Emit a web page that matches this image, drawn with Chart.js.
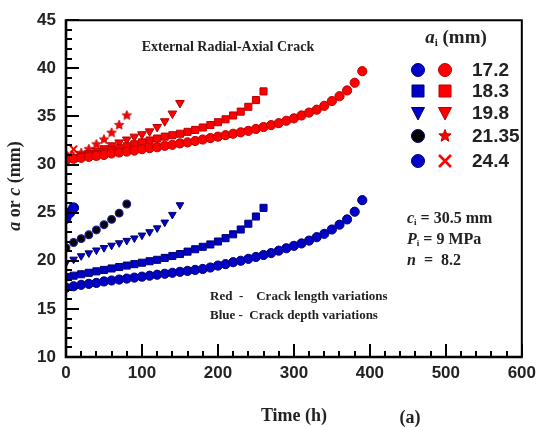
<!DOCTYPE html>
<html>
<head>
<meta charset="utf-8">
<script src="https://cdn.jsdelivr.net/npm/chart.js@4"></script>
<style>
  html, body { margin: 0; padding: 0; background: #fff; }
  #wrap { width: 542px; height: 427px; }
</style>
</head>
<body>
<div id="wrap"><canvas id="crack" width="542" height="427"></canvas></div>
<script>
// time steps (h)
const t390 = [0, 10, 20, 30, 40, 50, 60, 70, 80, 90, 100, 110, 120, 130, 140, 150, 160, 170, 180, 190,
  200, 210, 220, 230, 240, 250, 260, 270, 280, 290, 300, 310, 320, 330, 340, 350, 360, 370, 380, 390];
const t260 = [0, 10, 20, 30, 40, 50, 60, 70, 80, 90, 100, 110, 120, 130, 140, 150, 160, 170, 180, 190,
  200, 210, 220, 230, 240, 250, 260];
const t150 = [0, 10, 20, 30, 40, 50, 60, 70, 80, 90, 100, 110, 120, 130, 140, 150];
const t80 = [0, 10, 20, 30, 40, 50, 60, 70, 80];
const t10 = [0, 5, 10];

// crack length c (red)
const cLen17 = [30.5, 30.6, 30.7, 30.8, 30.9, 31.0, 31.15, 31.25, 31.35, 31.45,
  31.6, 31.7, 31.8, 31.95, 32.05, 32.2, 32.3, 32.45, 32.6, 32.75,
  32.9, 33.05, 33.2, 33.35, 33.5, 33.7, 33.9, 34.1, 34.3, 34.55,
  34.8, 35.1, 35.4, 35.7, 36.1, 36.6, 37.1, 37.7, 38.5, 39.7];
const cLen18 = [30.5, 30.65, 30.8, 30.95, 31.1, 31.3, 31.5, 31.7, 31.9, 32.1,
  32.3, 32.5, 32.7, 32.9, 33.05, 33.2, 33.4, 33.6, 33.85, 34.1,
  34.4, 34.7, 35.1, 35.5, 36.0, 36.7, 37.6];
const cLen19 = [30.5, 30.7, 30.95, 31.2, 31.45, 31.7, 32.0, 32.3, 32.6, 32.9, 33.15, 33.45, 33.9, 34.5, 35.3, 36.4];
const cLen21 = [30.5, 30.8, 31.2, 31.6, 32.1, 32.6, 33.3, 34.1, 35.1];
const cLen24 = [30.5, 31.0, 31.6];

// crack depth a (blue)
const aDep17 = [17.2, 17.35, 17.5, 17.6, 17.7, 17.85, 17.95, 18.05, 18.15, 18.25,
  18.35, 18.45, 18.55, 18.65, 18.75, 18.85, 18.95, 19.05, 19.15, 19.3,
  19.5, 19.65, 19.85, 20.0, 20.2, 20.4, 20.6, 20.8, 21.05, 21.3,
  21.55, 21.8, 22.1, 22.45, 22.8, 23.25, 23.75, 24.3, 25.1, 26.3];
const aDep18 = [18.3, 18.45, 18.6, 18.75, 18.9, 19.05, 19.2, 19.35, 19.5, 19.65,
  19.8, 19.95, 20.1, 20.3, 20.5, 20.7, 20.95, 21.2, 21.45, 21.7,
  22.0, 22.35, 22.75, 23.25, 23.85, 24.6, 25.5];
const aDep19 = [19.8, 20.15, 20.5, 20.8, 21.1, 21.35, 21.6, 21.85, 22.1, 22.35, 22.65, 23.0, 23.4, 24.0, 24.8, 25.8];
const aDep21 = [21.35, 21.9, 22.3, 22.7, 23.2, 23.75, 24.3, 24.95, 25.9];
const aDep24 = [24.4, 25.0, 25.5];

const legendLabels = ['17.2', '18.3', '19.8', '21.35', '24.4'];

const RED = '#ff0000', RED_EDGE = '#b80000';
const BLUE = '#0000c8', BLUE_EDGE = '#000070';

const pts = (xs, ys) => xs.map((x, i) => ({ x: x, y: ys[i] }));

// small filled star used as point image
const makeStar = (r) => {
  const c = document.createElement('canvas');
  c.width = c.height = r * 2 + 2;
  const g = c.getContext('2d');
  g.beginPath();
  for (let i = 0; i < 10; i++) {
    const rr = i % 2 ? r * 0.45 : r;
    const a = -Math.PI / 2 + i * Math.PI / 5;
    g.lineTo(r + 1 + rr * Math.cos(a), r + 1 + rr * Math.sin(a));
  }
  g.closePath();
  g.fillStyle = RED;
  g.fill();
  g.strokeStyle = RED_EDGE;
  g.lineWidth = 0.8;
  g.stroke();
  return c;
};
const starSmall = makeStar(5);

const ds = (data, style, fill, edge, r, extra) => Object.assign({
  data: data,
  showLine: false,
  pointStyle: style,
  pointRadius: r,
  pointBackgroundColor: fill,
  pointBorderColor: edge,
  pointBorderWidth: 1
}, extra || {});

const datasets = [
  ds(pts(t390, cLen17), 'circle', RED, RED_EDGE, 4.6),
  ds(pts(t260, cLen18), 'rect', RED, RED_EDGE, 5),
  ds(pts(t150, cLen19), 'triangle', RED, RED_EDGE, 5, { pointRotation: 180 }),
  ds(pts(t80, cLen21), starSmall, RED, RED_EDGE, 5),
  ds(pts(t10, cLen24), 'crossRot', RED, RED, 5, { pointBorderWidth: 2 }),
  ds(pts(t390, aDep17), 'circle', BLUE, BLUE_EDGE, 4.6),
  ds(pts(t260, aDep18), 'rect', BLUE, BLUE_EDGE, 5),
  ds(pts(t150, aDep19), 'triangle', BLUE, BLUE_EDGE, 4.4, { pointRotation: 180 }),
  ds(pts(t80, aDep21), 'circle', '#000000', '#1c1c90', 3.8, { pointBorderWidth: 1.3 }),
  ds(pts(t10, aDep24), 'circle', BLUE, BLUE_EDGE, 5)
];

// draws a run of differently styled pieces on one baseline
const drawRich = (ctx, parts, x, y, align) => {
  let w = 0;
  parts.forEach(p => { ctx.font = p.f; w += ctx.measureText(p.t).width; });
  let cx = align === 'center' ? x - w / 2 : x;
  parts.forEach(p => {
    ctx.font = p.f;
    ctx.fillText(p.t, cx, y + (p.dy || 0));
    cx += ctx.measureText(p.t).width;
  });
};

const legendMark = (ctx, kind, x, y, fill, edge) => {
  ctx.save();
  ctx.fillStyle = fill;
  ctx.strokeStyle = edge;
  ctx.lineWidth = 1;
  ctx.beginPath();
  if (kind === 'circle') {
    ctx.arc(x, y, 6.5, 0, Math.PI * 2);
  } else if (kind === 'rect') {
    ctx.rect(x - 6, y - 6, 12, 12);
  } else if (kind === 'tri') {
    ctx.moveTo(x - 6.5, y - 5.5);
    ctx.lineTo(x + 6.5, y - 5.5);
    ctx.lineTo(x, y + 7);
    ctx.closePath();
  } else if (kind === 'star') {
    for (let i = 0; i < 10; i++) {
      const rr = i % 2 ? 2.8 : 6.5;
      const a = -Math.PI / 2 + i * Math.PI / 5;
      ctx.lineTo(x + rr * Math.cos(a), y + rr * Math.sin(a));
    }
    ctx.closePath();
  } else if (kind === 'x') {
    ctx.lineWidth = 2.6;
    ctx.moveTo(x - 6, y - 6); ctx.lineTo(x + 6, y + 6);
    ctx.moveTo(x + 6, y - 6); ctx.lineTo(x - 6, y + 6);
    ctx.stroke();
    ctx.restore();
    return;
  }
  ctx.fill();
  ctx.stroke();
  ctx.restore();
};

const decorations = {
  id: 'decorations',
  afterDraw(chart) {
    const { ctx, chartArea: a, scales } = chart;
    const xs = scales.x, ys = scales.y;
    ctx.save();

    // frame
    ctx.strokeStyle = '#000';
    ctx.lineWidth = 2;
    ctx.beginPath();
    ctx.moveTo(a.left, a.top); ctx.lineTo(a.right, a.top); ctx.lineTo(a.right, a.bottom);
    ctx.stroke();
    ctx.lineWidth = 2.6;
    ctx.beginPath();
    ctx.moveTo(a.left, a.top - 1); ctx.lineTo(a.left, a.bottom); ctx.lineTo(a.right + 1, a.bottom);
    ctx.stroke();

    // inward ticks
    ctx.strokeStyle = '#000';
    ctx.lineWidth = 2;
    ctx.beginPath();
    for (let v = 10; v <= 45; v++) {
      const py = Math.round(ys.getPixelForValue(v));
      const len = v % 5 === 0 ? 13 : 6;
      ctx.moveTo(a.left, py); ctx.lineTo(a.left + len, py);
    }
    for (let v = 0; v <= 600; v += 20) {
      const px = Math.round(xs.getPixelForValue(v));
      const len = v % 100 === 0 ? 13 : 6;
      ctx.moveTo(px, a.bottom); ctx.lineTo(px, a.bottom - len);
    }
    ctx.stroke();

    ctx.fillStyle = '#222';
    ctx.textBaseline = 'middle';
    ctx.textAlign = 'left';
    const tb = (s) => 'bold ' + s + 'px "Liberation Serif", "Times New Roman", serif';
    const tbi = (s) => 'italic bold ' + s + 'px "Liberation Serif", "Times New Roman", serif';

    // title inside plot
    ctx.font = tb(14);
    ctx.textAlign = 'center';
    ctx.fillText('External Radial-Axial Crack', 228, 47);
    ctx.textAlign = 'left';

    // legend
    drawRich(ctx, [
      { t: 'a', f: tbi(19) },
      { t: 'i', f: tb(11), dy: 5 },
      { t: ' (mm)', f: tb(19) }
    ], 456, 38, 'center');
    const kinds = [['circle', 'circle'], ['rect', 'rect'], ['tri', 'tri'], ['circle', 'star'], ['circle', 'x']];
    const rowsY = [70, 91, 113, 136, 161];
    legendLabels.forEach((lab, i) => {
      const y = rowsY[i];
      const blueFill = i === 3 ? '#000' : BLUE;
      legendMark(ctx, kinds[i][0], 418, y, blueFill, BLUE_EDGE);
      legendMark(ctx, kinds[i][1], 445, y, RED, i === 4 ? RED : RED_EDGE);
      ctx.fillStyle = '#222';
      ctx.font = 'bold 19px "Liberation Sans", Arial, sans-serif';
      ctx.fillText(lab, 472, y + 1);
    });

    // parameters
    ctx.fillStyle = '#222';
    drawRich(ctx, [
      { t: 'c', f: tbi(16) }, { t: 'i', f: tb(9), dy: 4 }, { t: ' = 30.5 mm', f: tb(16) }
    ], 407, 219);
    drawRich(ctx, [
      { t: 'P', f: tbi(16) }, { t: 'i', f: tb(9), dy: 4 }, { t: ' = 9 MPa', f: tb(16) }
    ], 407, 240);
    drawRich(ctx, [
      { t: 'n', f: tbi(16) }, { t: '  =  8.2', f: tb(16) }
    ], 407, 261);

    ctx.font = tb(13);
    ctx.fillText('Red  -    Crack length variations', 210, 297);
    ctx.fillText('Blue -  Crack depth variations', 210, 316);

    // axis titles
    ctx.font = tb(18);
    ctx.textAlign = 'center';
    ctx.fillText('Time (h)', 294, 416);
    ctx.fillText('(a)', 410, 418);
    ctx.textAlign = 'left';

    ctx.save();
    ctx.translate(15, 186);
    ctx.rotate(-Math.PI / 2);
    drawRich(ctx, [
      { t: 'a', f: tbi(18) }, { t: ' or ', f: tb(18) }, { t: 'c', f: tbi(18) }, { t: ' (mm)', f: tb(18) }
    ], 0, 0, 'center');
    ctx.restore();

    ctx.restore();
  }
};

const tickFont = { family: '"Liberation Sans", Arial, sans-serif', size: 17, weight: 'bold' };

new Chart(document.getElementById('crack'), {
  type: 'scatter',
  data: { datasets: datasets },
  options: {
    responsive: false,
    animation: false,
    layout: { padding: { top: 16, right: 15, left: 0, bottom: 0 } },
    plugins: { legend: { display: false }, tooltip: { enabled: false } },
    scales: {
      x: {
        type: 'linear', min: 0, max: 600,
        grid: { display: false, drawTicks: false },
        border: { display: false },
        ticks: { stepSize: 100, font: tickFont, color: '#222', padding: 6, maxRotation: 0 },
        afterFit: (s) => { s.height = 70; }
      },
      y: {
        type: 'linear', min: 10, max: 45,
        grid: { display: false, drawTicks: false },
        border: { display: false },
        ticks: { stepSize: 5, font: tickFont, color: '#222', padding: 10 },
        afterFit: (s) => { s.width = 66; }
      }
    }
  },
  plugins: [decorations]
});
</script>
</body>
</html>
